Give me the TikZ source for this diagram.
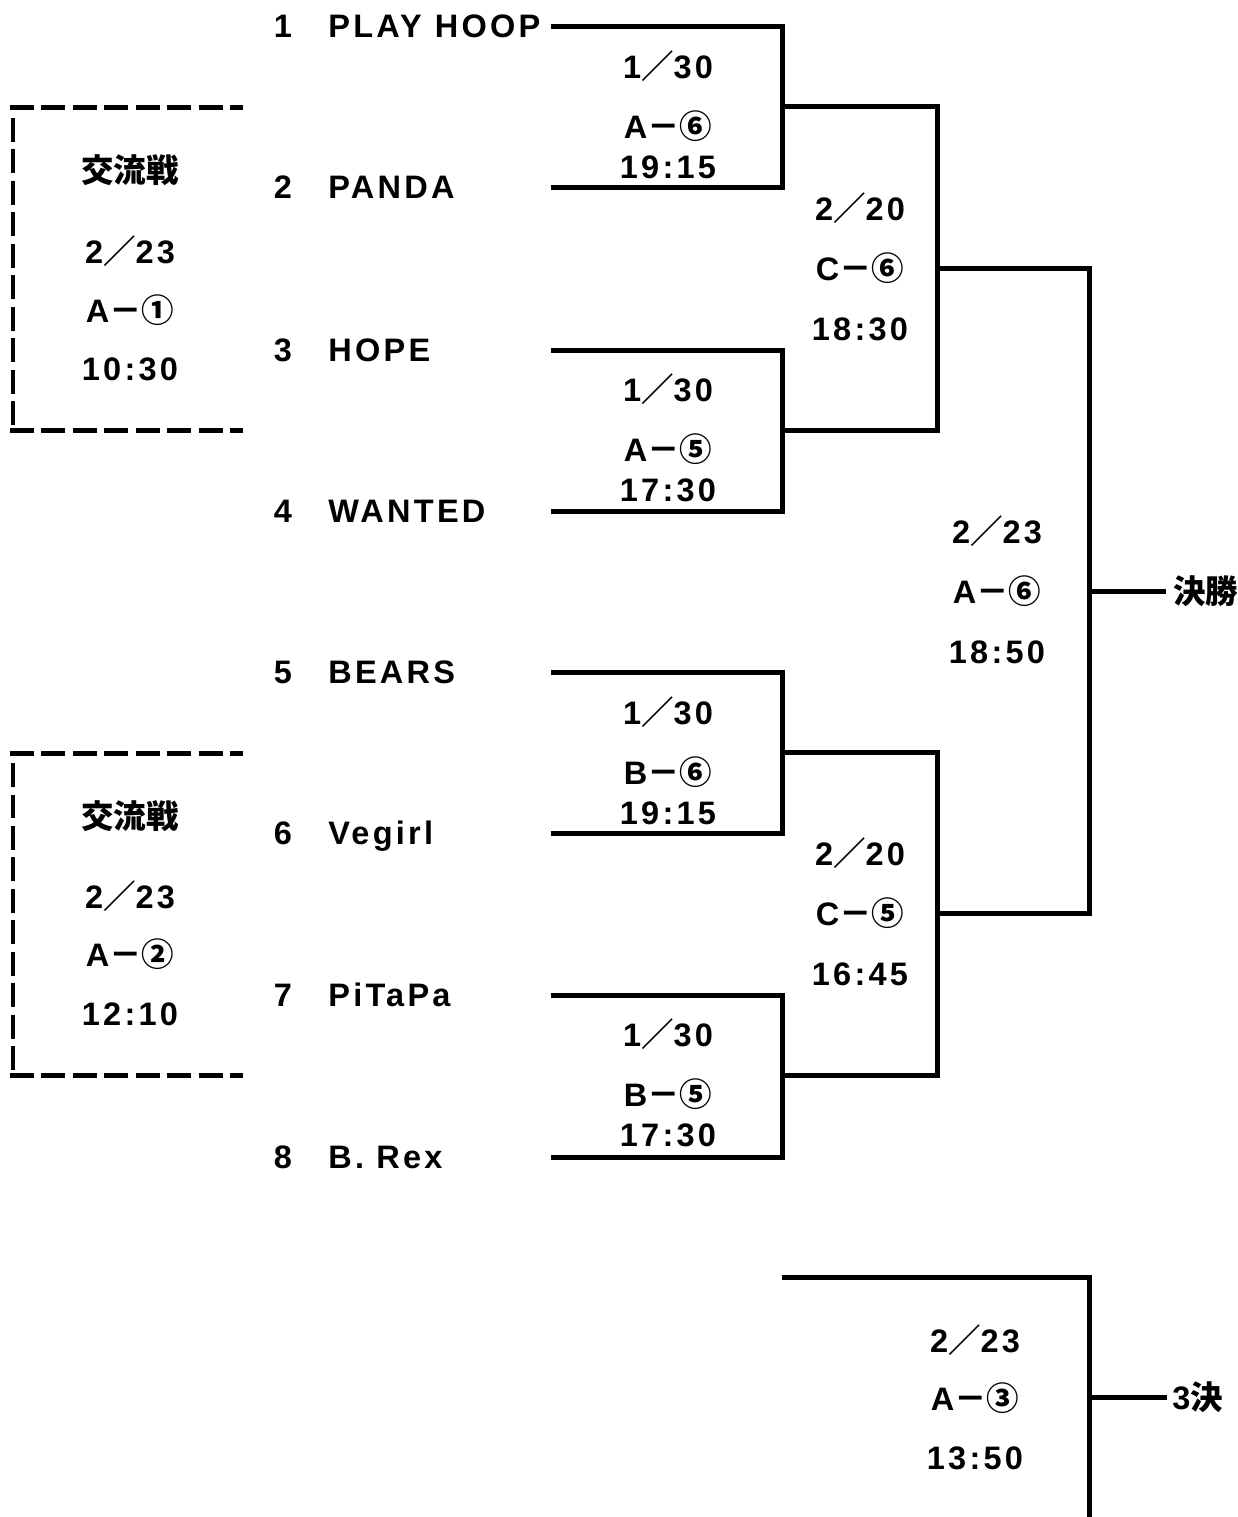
\documentclass[tikz,border=0pt]{standalone}
\usepackage{fontspec}
\setmainfont{Liberation Sans}[LetterSpace=10]
\newfontfamily\jpfont{Noto Sans CJK JP}
\newcommand{\jp}[1]{{\jpfont #1}}
\usepackage{tikz}
\tikzstyle{bracket} = [line width=0.1cm]
\tikzstyle{dashbox} = [line width=0.1cm, dash pattern=on 0.48cm off 0.15cm]
\tikzstyle{lbl} = [anchor=base, inner sep=0pt]
\tikzstyle{team} = [anchor=base west, inner sep=0pt]

\begin{document}
\begin{tikzpicture}[x=0.02cm, y=-0.02cm, font=\fontsize{18.5}{22}\selectfont\bfseries]
\useasboundingbox (0,0) rectangle (1237,1517);

% Team numbers and names
\node[lbl] (n1) at (283,38) {1};
\node[team] (team1) at (328,38) {PLAY\hspace{0.4em}HOOP};
\node[lbl] (n2) at (283,199) {2};
\node[team] (team2) at (328,199) {PANDA};
\node[lbl] (n3) at (283,361) {3};
\node[team] (team3) at (328,361) {HOPE};
\node[lbl] (n4) at (283,522) {4};
\node[team] (team4) at (328,522) {WANTED};
\node[lbl] (n5) at (283,683) {5};
\node[team] (team5) at (328,683) {BEARS};
\node[lbl] (n6) at (283,844) {6};
\node[team] (team6) at (328,844) {Vegirl};
\node[lbl] (n7) at (283,1006) {7};
\node[team] (team7) at (328,1006) {PiTaPa};
\node[lbl] (n8) at (283,1168) {8};
\node[team] (team8) at (328,1168) {B. Rex};

% Line ends of each team
\coordinate (e1) at (551,27);
\coordinate (e2) at (551,188);
\coordinate (e3) at (551,350);
\coordinate (e4) at (551,511);
\coordinate (e5) at (551,672);
\coordinate (e6) at (551,833);
\coordinate (e7) at (551,995);
\coordinate (e8) at (551,1157);

% Joints
\coordinate (q1) at (782,107);
\coordinate (q2) at (782,430);
\coordinate (q3) at (782,752);
\coordinate (q4) at (782,1075);
\coordinate (s1) at (937,268);
\coordinate (s2) at (937,913);
\coordinate (fin) at (1089,591);
\coordinate (win) at (1166,591);

% First round
\draw[bracket] (e1) -| (q1) |- (e2);
\draw[bracket] (e3) -| (q2) |- (e4);
\draw[bracket] (e5) -| (q3) |- (e6);
\draw[bracket] (e7) -| (q4) |- (e8);

% Semi finals and final
\draw[bracket] (q1) -| (s1) |- (q2);
\draw[bracket] (q3) -| (s2) |- (q4);
\draw[bracket] (s1) -| (fin) |- (s2);
\draw[bracket] (fin) -- (win);
\node[anchor=west, inner sep=0pt] (final) at (1173,591) {\jp{決勝}};

% Third place
\coordinate (c1) at (782,1277);
\coordinate (t3) at (1089,1397);
\coordinate (tb) at (1089,1520);
\coordinate (w3) at (1167,1397);
\draw[bracket] (c1) -| (t3) -- (tb);
\draw[bracket] (t3) -- (w3);
\node[anchor=west, inner sep=0pt] (third) at (1172,1397) {3\jp{決}};

% Match dates, courts, times
\node[lbl] (d1) at (668,79) {1\jp{／}30};
\node[lbl] (c1l) at (668,139) {A\jp{－⑥}};
\node[lbl] (h1) at (668,179) {19:15};
\node[lbl] (d2) at (668,401) {1\jp{／}30};
\node[lbl] (c2l) at (668,461) {A\jp{－⑤}};
\node[lbl] (h2) at (668,501) {17:30};
\node[lbl] (d3) at (668,724) {1\jp{／}30};
\node[lbl] (c3l) at (668,784) {B\jp{－⑥}};
\node[lbl] (h3) at (668,824) {19:15};
\node[lbl] (d4) at (668,1046) {1\jp{／}30};
\node[lbl] (c4l) at (668,1106) {B\jp{－⑤}};
\node[lbl] (h4) at (668,1146) {17:30};

\node[lbl] (d5) at (860,220) {2\jp{／}20};
\node[lbl] (c5l) at (860,280) {C\jp{－⑥}};
\node[lbl] (h5) at (860,340) {18:30};
\node[lbl] (d6) at (860,865) {2\jp{／}20};
\node[lbl] (c6l) at (860,925) {C\jp{－⑤}};
\node[lbl] (h6) at (860,985) {16:45};

\node[lbl] (d7) at (997,543) {2\jp{／}23};
\node[lbl] (c7l) at (997,603) {A\jp{－⑥}};
\node[lbl] (h7) at (997,663) {18:50};

\node[lbl] (d8) at (975,1352) {2\jp{／}23};
\node[lbl] (c8l) at (975,1410) {A\jp{－③}};
\node[lbl] (h8) at (975,1469) {13:50};

% Exchange games (dashed)
\draw[dashbox] (10,108) -- (243,108);
\draw[dashbox] (13,118) -- (13,431);
\draw[dashbox] (10,430) -- (243,430);
\node[lbl] (x1) at (130,183) {\jp{交流戦}};
\node[lbl] (xd1) at (130,263) {2\jp{／}23};
\node[lbl] (xc1) at (130,322) {A\jp{－①}};
\node[lbl] (xh1) at (130,380) {10:30};

\draw[dashbox] (10,753) -- (243,753);
\draw[dashbox] (13,763) -- (13,1076);
\draw[dashbox] (10,1075) -- (243,1075);
\node[lbl] (x2) at (130,828) {\jp{交流戦}};
\node[lbl] (xd2) at (130,908) {2\jp{／}23};
\node[lbl] (xc2) at (130,966) {A\jp{－②}};
\node[lbl] (xh2) at (130,1025) {12:10};

\end{tikzpicture}
\end{document}
